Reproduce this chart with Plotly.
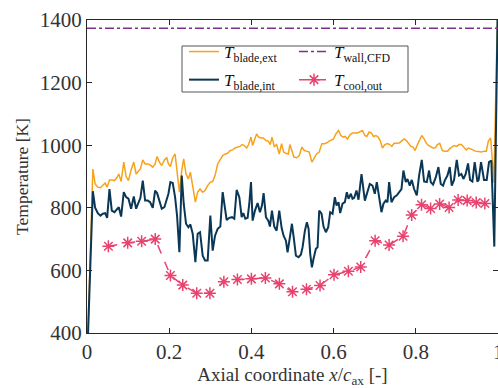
import plotly.graph_objects as go

# ---------------- data ----------------
x_ext = [0.0, 0.0142, 0.0198, 0.0263, 0.0328, 0.0385, 0.0441, 0.0490, 0.0547, 0.0603,
         0.0668, 0.0725, 0.0774, 0.0830, 0.0895, 0.0952, 0.1009, 0.1073, 0.1138, 0.1195,
         0.1235, 0.1300, 0.1357, 0.1414, 0.1478, 0.1535, 0.1600, 0.1657, 0.1705, 0.1762,
         0.1819, 0.1883, 0.1940, 0.1981, 0.2029, 0.2086, 0.2143, 0.2191, 0.2248, 0.2305,
         0.2353, 0.2410, 0.2467, 0.2515, 0.2572, 0.2637, 0.2693, 0.2750, 0.2815, 0.2872,
         0.2936, 0.3001, 0.3058, 0.3115, 0.3179, 0.3244, 0.3301,
         0.3366, 0.3422, 0.3487, 0.3544, 0.3601, 0.3665, 0.3722, 0.3771, 0.3827, 0.3884,
         0.3933, 0.3990, 0.4030, 0.4070, 0.4127, 0.4176, 0.4232, 0.4289, 0.4354, 0.4411,
         0.4459, 0.4500, 0.4557, 0.4613, 0.4678, 0.4735, 0.4783, 0.4840, 0.4897, 0.4937,
         0.4986, 0.5034, 0.5099, 0.5164, 0.5229, 0.5285, 0.5342, 0.5407, 0.5472, 0.5529,
         0.5585, 0.5650, 0.5715, 0.5772, 0.5828, 0.5893, 0.5950, 0.5998, 0.6055, 0.6120,
         0.6177, 0.6233, 0.6282, 0.6339, 0.6403, 0.6460, 0.6582,
         0.6646, 0.6703, 0.6760, 0.6808, 0.6865, 0.6922, 0.6970, 0.7027, 0.7084, 0.7132,
         0.7189, 0.7246, 0.7311, 0.7367, 0.7416, 0.7473, 0.7529, 0.7594, 0.7651, 0.7716,
         0.7772, 0.7821, 0.7878, 0.7934, 0.7983, 0.8040, 0.8096, 0.8145, 0.8202, 0.8258,
         0.8307, 0.8364, 0.8420, 0.8477, 0.8526, 0.8582, 0.8647, 0.8704, 0.8769, 0.8826,
         0.8874, 0.8931, 0.8996, 0.9052, 0.9109, 0.9174, 0.9230, 0.9279, 0.9336, 0.9392,
         0.9441, 0.9498, 0.9555, 0.9603, 0.9660, 0.9717, 0.9765, 0.9822, 0.9900, 1.0]
T_blade_ext = [300, 924, 876, 866, 864, 873, 879, 866, 889, 889,
               887, 896, 908, 884, 946, 900, 887, 921, 946, 908,
               914, 924, 953, 940, 940, 937, 930, 940, 964, 946,
               935, 953, 960, 940, 932, 960, 972, 908, 850, 919,
               956, 908, 892, 914, 866, 818, 850, 860, 850, 855,
               871, 882, 884, 903, 940, 953, 967,
               972, 974, 983, 985, 991, 994, 996, 1002, 999, 991,
               1002, 1026, 999, 1015, 1036, 1026, 1023, 1023, 1015, 1013,
               1002, 1026, 996, 1002, 972, 1005, 978, 974, 972, 1002,
               978, 962, 960, 967, 994, 983, 981, 978, 946, 957,
               972, 978, 1005, 1005, 1007, 1013, 1018, 1020, 1036, 1047,
               1031, 1026, 1028, 1020, 1034, 1039, 1039,
               1042, 1047, 1031, 1028, 1042, 1039, 1028, 1031, 1026, 1015,
               991, 1002, 1005, 1002, 996, 1006, 1006, 1007, 1013, 1020,
               1015, 1005, 996, 994, 983, 1002, 1015, 1031, 1020, 1006,
               999, 994, 991, 992, 1002, 1006, 983, 981, 981, 989,
               994, 999, 996, 1002, 1002, 992, 985, 991, 989, 985,
               981, 980, 978, 978, 981, 981, 1013, 1023, 880, 1500]

x_int = [0.0, 0.0142, 0.0198, 0.0263, 0.0328, 0.0385, 0.0441, 0.0490, 0.0547, 0.0603,
         0.0668, 0.0725, 0.0774, 0.0830, 0.0895, 0.0952, 0.1009, 0.1073, 0.1138, 0.1195,
         0.1235, 0.1300, 0.1357, 0.1414, 0.1478, 0.1535, 0.1600, 0.1657, 0.1705, 0.1762,
         0.1819, 0.1883, 0.1940, 0.1981, 0.2029, 0.2086, 0.2143, 0.2191, 0.2248, 0.2305,
         0.2353, 0.2410, 0.2467, 0.2515, 0.2572, 0.2637, 0.2693, 0.2750, 0.2815, 0.2872,
         0.2936, 0.3001, 0.3058, 0.3115, 0.3179, 0.3244, 0.3301,
         0.3398, 0.3463, 0.3528, 0.3584, 0.3641, 0.3706, 0.3763, 0.3803, 0.3852, 0.3908,
         0.3949, 0.3990, 0.4030, 0.4087, 0.4151, 0.4208, 0.4257, 0.4297, 0.4354, 0.4411,
         0.4451, 0.4500, 0.4557, 0.4613, 0.4678, 0.4735, 0.4783, 0.4840, 0.4880, 0.4937,
         0.4986, 0.5034, 0.5083, 0.5148, 0.5205, 0.5245, 0.5302, 0.5350, 0.5391, 0.5431,
         0.5472, 0.5512, 0.5569, 0.5610, 0.5650, 0.5707, 0.5755, 0.5812, 0.5869, 0.5917,
         0.5974, 0.6031, 0.6071, 0.6120, 0.6160, 0.6217, 0.6274, 0.6322, 0.6363, 0.6420,
         0.6460, 0.6501, 0.6557, 0.6606,
         0.6679, 0.6760, 0.6825, 0.6881, 0.6946, 0.7003, 0.7051, 0.7108, 0.7165, 0.7213,
         0.7270, 0.7311, 0.7351, 0.7408, 0.7473, 0.7538, 0.7594, 0.7651, 0.7699, 0.7756,
         0.7797, 0.7853, 0.7902, 0.7959, 0.8024, 0.8080, 0.8145, 0.8202, 0.8267, 0.8323,
         0.8364, 0.8420, 0.8485, 0.8550, 0.8607, 0.8663, 0.8704, 0.8769, 0.8826, 0.8874,
         0.8931, 0.8996, 0.9052, 0.9109, 0.9158, 0.9214, 0.9271, 0.9320, 0.9377, 0.9433,
         0.9498, 0.9530, 0.9587, 0.9660, 0.9725, 0.9781, 0.9838, 0.9910, 1.0]
T_blade_int = [300, 853, 800, 783, 775, 781, 783, 768, 860, 791,
               786, 793, 802, 772, 850, 834, 829, 797, 836, 797,
               813, 832, 887, 823, 823, 818, 800, 855, 847, 823,
               797, 802, 829, 845, 882, 879, 834, 775, 658, 903,
               813, 749, 738, 747, 717, 626, 717, 722, 647, 632,
               632, 775, 663, 711, 733, 740, 850,
               761, 768, 770, 765, 857, 834, 770, 783, 765, 768,
               813, 882, 759, 791, 815, 786, 807, 847, 770, 759,
               740, 791, 740, 727, 791, 736, 711, 695, 658, 706,
               749, 701, 647, 642, 651, 674, 727, 754, 733, 653,
               610, 637, 669, 674, 791, 781, 740, 722, 738, 786,
               781, 834, 807, 818, 783, 813, 818, 850, 829, 845,
               829, 832, 855, 826,
               908, 823, 850, 876, 871, 845, 882, 840, 786, 813,
               823, 818, 882, 818, 834, 840, 850, 860, 919, 882,
               892, 871, 889, 860, 840, 903, 953, 884, 882, 919,
               882, 874, 897, 930, 876, 871, 887, 903, 930, 871,
               889, 953, 903, 908, 892, 908, 942, 889, 884, 946,
               884, 889, 946, 889, 889, 946, 951, 676, 1500]

x_wall = [0.0, 1.0]
T_wall_CFD = [1374, 1374]

x_cool = [0.052, 0.099, 0.133, 0.166, 0.203, 0.233, 0.267, 0.299, 0.333, 0.366,
          0.400, 0.434, 0.468, 0.500, 0.534, 0.567, 0.601, 0.636, 0.666, 0.701,
          0.735, 0.769, 0.790, 0.814, 0.836, 0.858, 0.881, 0.903, 0.925, 0.947, 0.968]
T_cool_out = [677, 688, 693, 700, 584, 553, 527, 527, 564, 571,
              573, 576, 557, 532, 540, 552, 586, 597, 611, 695,
              681, 709, 777, 810, 798, 812, 801, 825, 823, 817, 814]

x_ticks = [0, 0.2, 0.4, 0.6, 0.8, 1.0]
x_ticklabels = ["0", "0.2", "0.4", "0.6", "0.8", "1"]
y_ticks = [400, 600, 800, 1000, 1200, 1400]

# ---------------- style ----------------
C_EXT = "#F7A21A"
C_INT = "#0A3756"
C_WALL = "#7E2F8E"
C_COOL = "#E8436F"
AX = "#262626"
TXT = "#333333"
FONT = "Liberation Serif"

W, H = 498, 388
L, R, T, B = 87, 0, 20, 55
PW, PH = W - L - R, H - T - B

def px_to_paper_x(px):
    return (px - L) / PW

def px_to_paper_y(py):
    return (H - B - py) / PH

fig = go.Figure()
fig.add_trace(go.Scatter(x=x_ext, y=T_blade_ext, mode="lines",
                         line=dict(color=C_EXT, width=1.5),
                         name="<i>T</i><sub>blade,ext</sub>", legend="legend",
                         legendgroup="a"))
fig.add_trace(go.Scatter(x=x_int, y=T_blade_int, mode="lines",
                         line=dict(color=C_INT, width=2),
                         name="<i>T</i><sub>blade,int</sub>", legend="legend",
                         legendgroup="b"))
fig.add_trace(go.Scatter(x=x_wall, y=T_wall_CFD, mode="lines",
                         line=dict(color=C_WALL, width=1.5, dash="dashdot"),
                         name="<i>T</i><sub>wall,CFD</sub>", legend="legend2",
                         legendgroup="c"))
fig.add_trace(go.Scatter(x=x_cool, y=T_cool_out, mode="lines+markers",
                         line=dict(color=C_COOL, width=1.5, dash="dash"),
                         marker=dict(symbol="asterisk-open", size=10,
                                     line=dict(color=C_COOL, width=1.5)),
                         name="<i>T</i><sub>cool,out</sub>", legend="legend2",
                         legendgroup="d"))

legend_common = dict(
    font=dict(family=FONT, size=17, color="#111111"),
    bgcolor="rgba(0,0,0,0)", borderwidth=0,
    xanchor="left", yanchor="top", xref="paper", yref="paper",
    traceorder="grouped", tracegroupgap=3, itemwidth=30,
)

fig.update_layout(
    width=W, height=H,
    margin=dict(l=L, r=R, t=T, b=B, pad=0, autoexpand=False),
    paper_bgcolor="white", plot_bgcolor="white",
    font=dict(family=FONT, color=AX),
    showlegend=True,
    legend=dict(x=px_to_paper_x(184), y=px_to_paper_y(34), **legend_common),
    legend2=dict(x=px_to_paper_x(294), y=px_to_paper_y(34), **legend_common),
    shapes=[dict(type="rect", xref="paper", yref="paper",
                 x0=px_to_paper_x(182), x1=px_to_paper_x(408),
                 y0=px_to_paper_y(92), y1=px_to_paper_y(46),
                 line=dict(color="#555555", width=1), fillcolor="white",
                 layer="below")],
    annotations=[dict(text=x_ticklabels[-1], x=x_ticks[-1], xref="x",
                      y=px_to_paper_y(352), yref="paper", showarrow=False,
                      xanchor="center", yanchor="middle",
                      font=dict(family=FONT, size=21, color=TXT))],
    xaxis=dict(range=[0, 1], tickvals=x_ticks, ticktext=x_ticklabels,
               showgrid=False, zeroline=False, showline=True, linecolor=AX,
               linewidth=1, mirror="allticks", ticks="inside", ticklen=5,
               tickcolor=AX, tickfont=dict(family=FONT, size=21, color=TXT),
               automargin=False,
               title=dict(text="Axial coordinate <i>x</i>/<i>c</i><sub>ax</sub> [-]",
                          font=dict(family=FONT, size=19, color=TXT),
                          standoff=4)),
    yaxis=dict(range=[400, 1400], tickvals=y_ticks,
               showgrid=False, zeroline=False, showline=True, linecolor=AX,
               linewidth=1, mirror="allticks", ticks="inside", ticklen=5,
               tickcolor=AX, tickfont=dict(family=FONT, size=21, color=TXT),
               automargin=False,
               title=dict(text="Temperature [K]",
                          font=dict(family=FONT, size=17.5, color=TXT),
                          standoff=6)),
)

fig.write_html("out.html")
